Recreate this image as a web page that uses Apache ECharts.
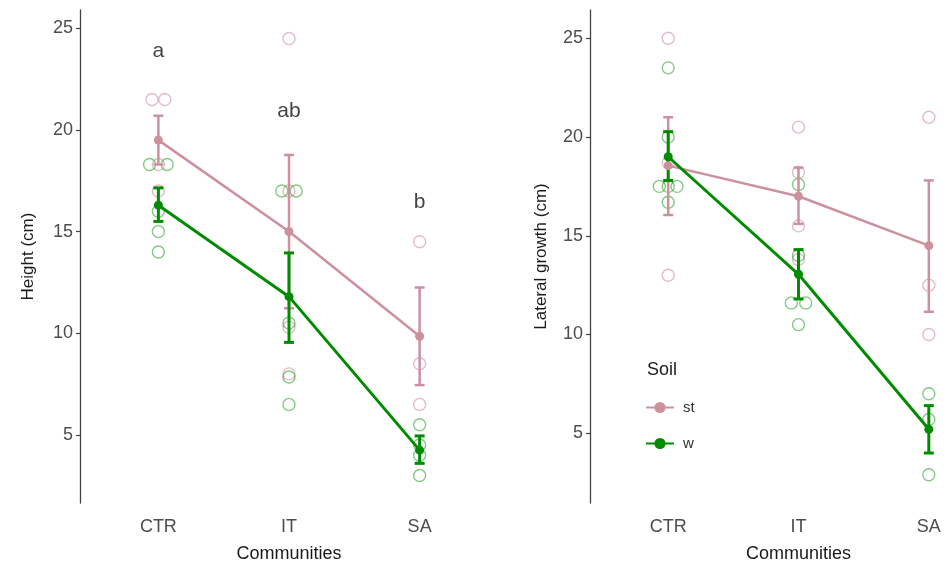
<!DOCTYPE html>
<html><head><meta charset="utf-8">
<script src="https://cdn.jsdelivr.net/npm/echarts@6/dist/echarts.min.js"></script>
<style>html,body{margin:0;padding:0;background:#fff}#c{width:946px;height:569px}</style>
</head><body><div id="c"></div>
<script>
const categories = ['CTR', 'IT', 'SA'];
const yTicks = [5, 10, 15, 20, 25];

// Height panel: means and error-bar limits
const heightStMean = [19.5, 15.0, 9.85];
const heightStLow = [18.3, 11.23, 7.45];
const heightStHigh = [20.7, 18.77, 12.25];
const heightWMean = [16.3, 11.8, 4.25];
const heightWLow = [15.5, 9.55, 3.6];
const heightWHigh = [17.15, 13.95, 4.95];
// raw observations: [category index, value, dodge slot]
const heightStPts = [[0,21.5,-0.8],[0,21.5,0.8],[0,18.3,0],[0,17.0,0],[1,24.5,0],[1,17.0,0],[1,10.3,0],[1,8.0,0],[2,14.5,0],[2,8.5,0],[2,6.5,0]];
const heightWPts = [[0,18.3,-1.1],[0,18.3,1.1],[0,16.0,0],[0,15.0,0],[0,14.0,0],[1,17.0,-0.9],[1,17.0,0.9],[1,10.5,0],[1,7.85,0],[1,6.5,0],[2,5.5,0],[2,4.5,0],[2,4.0,0],[2,3.0,0]];
const heightLetters = ['a', 'ab', 'b'];
const heightLetterY = [23.85, 20.9, 16.45];

// Lateral growth panel
const latStMean = [18.55, 17.0, 14.5];
const latStLow = [16.05, 15.6, 11.15];
const latStHigh = [21.0, 18.45, 17.8];
const latWMean = [19.0, 13.05, 5.2];
const latWLow = [17.8, 11.8, 4.0];
const latWHigh = [20.27, 14.3, 6.4];
const latStPts = [[0,25.0,0],[0,18.7,0],[0,13.0,0],[1,20.5,0],[1,18.2,0],[1,15.5,0],[1,13.8,0],[2,21.0,0],[2,12.5,0],[2,10.0,0]];
const latWPts = [[0,23.5,0],[0,20.0,0],[0,17.5,-1.1],[0,17.5,0],[0,17.5,1.1],[0,16.7,0],[1,17.6,0],[1,14.0,0],[1,11.6,-0.9],[1,11.6,0.9],[1,10.5,0],[2,7.0,0],[2,5.7,0],[2,2.9,0]];

const PINK = '#CD919E', GREEN = '#008B00';
const PINK_PT = 'rgba(205,145,158,0.75)', GREEN_PT = 'rgba(0,139,0,0.6)';
const FONT = 'Liberation Sans, Arial, sans-serif';
const DODGE = 8;

function xAxisDef(idx) {
  return {
    type: 'value', gridIndex: idx, min: -0.6, max: 2.6,
    axisLine: {show: false, onZero: false}, axisTick: {show: false}, splitLine: {show: false},
    axisLabel: {customValues: [0, 1, 2], formatter: v => categories[Math.round(v)] || '',
      fontSize: 18, color: '#4D4D4D', margin: 15, fontFamily: FONT},
    name: 'Communities', nameLocation: 'middle', nameGap: 42,
    nameTextStyle: {fontSize: 18, color: '#1a1a1a', fontFamily: FONT}
  };
}
function yAxisDef(idx, min, max, name, gap) {
  return {
    type: 'value', gridIndex: idx, min: min, max: max,
    axisLine: {show: true, onZero: false, lineStyle: {color: '#444', width: 1.3}},
    axisTick: {show: true, customValues: yTicks, length: 4, lineStyle: {color: '#444', width: 1.2}},
    axisLabel: {customValues: yTicks, fontSize: 18, color: '#4D4D4D', margin: 7, fontFamily: FONT},
    splitLine: {show: false},
    name: name, nameLocation: 'middle', nameGap: gap,
    nameTextStyle: {fontSize: 17, color: '#1a1a1a', fontFamily: FONT}
  };
}
function ptsSeries(name, pts, color, gi) {
  return {
    type: 'scatter', name: name, xAxisIndex: gi, yAxisIndex: gi, z: 2,
    symbol: 'circle', symbolSize: 12,
    itemStyle: {color: 'rgba(0,0,0,0)', borderColor: color, borderWidth: 1.4},
    data: pts.map(p => ({value: [p[0], p[1]], symbolOffset: [p[2] * DODGE, 0]})),
    silent: true
  };
}
function meanSeries(name, means, color, lw, gi) {
  return {
    type: 'line', name: name, xAxisIndex: gi, yAxisIndex: gi, z: 4,
    symbol: 'circle', symbolSize: 9, showSymbol: true,
    lineStyle: {color: color, width: lw}, itemStyle: {color: color},
    data: means.map((m, i) => [i, m]), animation: false
  };
}
function errSeries(name, lo, hi, color, lw, gi) {
  return {
    type: 'custom', name: name, xAxisIndex: gi, yAxisIndex: gi, z: 3,
    renderItem: function (params, api) {
      const x = api.value(0);
      const a = api.coord([x, api.value(1)]);
      const b = api.coord([x, api.value(2)]);
      const w = 5;
      const st = {stroke: color, lineWidth: lw};
      return {type: 'group', children: [
        {type: 'line', shape: {x1: a[0], y1: a[1], x2: b[0], y2: b[1]}, style: st},
        {type: 'line', shape: {x1: a[0] - w, y1: a[1], x2: a[0] + w, y2: a[1]}, style: st},
        {type: 'line', shape: {x1: b[0] - w, y1: b[1], x2: b[0] + w, y2: b[1]}, style: st}
      ]};
    },
    data: lo.map((l, i) => [i, l, hi[i]])
  };
}

const chart = echarts.init(document.getElementById('c'), null, {renderer: 'canvas'});
chart.setOption({
  animation: false,
  backgroundColor: '#fff',
  textStyle: {fontFamily: FONT},
  title: {text: 'Soil', left: 642, top: 356, textStyle: {fontSize: 18, fontWeight: 'normal', color: '#1a1a1a', fontFamily: FONT}},
  legend: {
    data: ['st', 'w'], orient: 'vertical', left: 640, top: 395,
    itemWidth: 28, itemHeight: 14, itemGap: 21,
    textStyle: {fontSize: 15, color: '#333', padding: [0, 0, 0, 4], fontFamily: FONT},
    selectedMode: false
  },
  grid: [
    {left: 80, top: 10, width: 418, height: 493, outerBoundsMode: 'none', containLabel: false},
    {left: 590, top: 10, width: 417, height: 493, outerBoundsMode: 'none', containLabel: false}
  ],
  xAxis: [xAxisDef(0), xAxisDef(1)],
  yAxis: [yAxisDef(0, 1.65, 25.9, 'Height (cm)', 43), yAxisDef(1, 1.47, 26.43, 'Lateral growth (cm)', 40)],
  series: [
    ptsSeries('st-pts', heightStPts, PINK_PT, 0),
    ptsSeries('w-pts', heightWPts, GREEN_PT, 0),
    errSeries('st-err', heightStLow, heightStHigh, PINK, 2.5, 0),
    errSeries('w-err', heightWLow, heightWHigh, GREEN, 3, 0),
    meanSeries('st', heightStMean, PINK, 2.5, 0),
    meanSeries('w', heightWMean, GREEN, 3, 0),
    {
      type: 'scatter', name: 'letters', xAxisIndex: 0, yAxisIndex: 0, symbolSize: 0, z: 5,
      data: heightLetters.map((t, i) => ({value: [i, heightLetterY[i]], txt: t})),
      label: {show: true, position: 'inside', formatter: p => p.data.txt, fontSize: 21, color: '#111', fontFamily: FONT},
      silent: true
    },
    ptsSeries('st-pts', latStPts, PINK_PT, 1),
    ptsSeries('w-pts', latWPts, GREEN_PT, 1),
    errSeries('st-err', latStLow, latStHigh, PINK, 2.5, 1),
    errSeries('w-err', latWLow, latWHigh, GREEN, 3, 1),
    meanSeries('st', latStMean, PINK, 2.5, 1),
    meanSeries('w', latWMean, GREEN, 3, 1)
  ]
});
</script></body></html>
